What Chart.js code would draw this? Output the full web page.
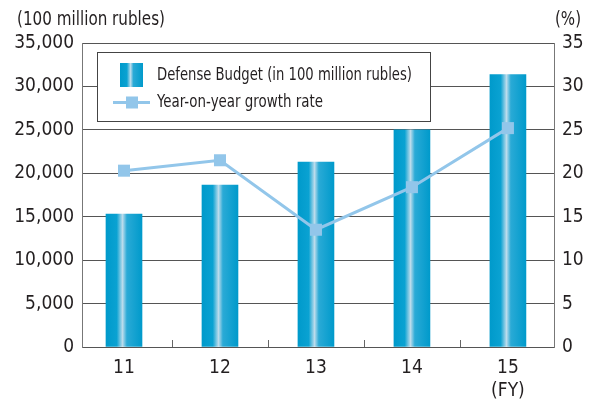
<!DOCTYPE html>
<html>
<head>
<meta charset="utf-8">
<script src="https://cdn.jsdelivr.net/npm/chart.js@4"></script>
<style>
  html, body { margin: 0; padding: 0; background: #fff; }
  #wrap { width: 591px; height: 401px; }
</style>
</head>
<body>
<div id="wrap"><canvas id="myChartBudget" width="591" height="401"></canvas></div>
<script>
const categories = ['11', '12', '13', '14', '15'];
const budget = [15300, 18650, 21300, 25000, 31350]; // 100 million rubles
const growth = [20.3, 21.5, 13.5, 18.4, 25.2]; // %
const leftTicks = [0, 5000, 10000, 15000, 20000, 25000, 30000, 35000];
const rightTicks = [0, 5, 10, 15, 20, 25, 30, 35];

const FONT = '"Liberation Sans Narrow", "DejaVu Sans Condensed", "Liberation Sans", Arial, sans-serif';
const TEXT = '#231f20';
const LINE_BLUE = '#92c6ea';
const BAR_W = 36;

function barGradient(ctx, x0, x1) {
    const g = ctx.createLinearGradient(x0, 0, x1, 0);
    g.addColorStop(0, '#009acb');
    g.addColorStop(0.3, '#0aa2d2');
    g.addColorStop(0.46, '#bcdcec');
    g.addColorStop(0.58, '#2aaad6');
    g.addColorStop(1, '#009acb');
    return g;
}

// axis titles, small category separators and the boxed legend
const decorations = {
    id: 'decorations',
    beforeDatasetsDraw(chart) {
        const ctx = chart.ctx;
        const area = chart.chartArea;
        const x = chart.scales.x;
        ctx.save();

        // separators between categories
        ctx.strokeStyle = '#666';
        ctx.lineWidth = 1;
        for (let i = 0; i < categories.length - 1; i++) {
            const px = Math.round(x.getPixelForValue(i + 0.5)) + 0.5;
            ctx.beginPath();
            ctx.moveTo(px, area.bottom);
            ctx.lineTo(px, area.bottom - 7);
            ctx.stroke();
        }

        // legend box
        const lx = 97, ly = 52, lw = 333, lh = 69;
        ctx.fillStyle = '#fff';
        ctx.fillRect(lx, ly, lw, lh);
        ctx.strokeStyle = '#444';
        ctx.strokeRect(lx + 0.5, ly + 0.5, lw, lh);

        ctx.fillStyle = barGradient(ctx, 120, 143);
        ctx.fillRect(120, 63, 23, 24);

        ctx.strokeStyle = LINE_BLUE;
        ctx.lineWidth = 3;
        ctx.beginPath();
        ctx.moveTo(113, 102.5);
        ctx.lineTo(150, 102.5);
        ctx.stroke();
        ctx.fillStyle = LINE_BLUE;
        ctx.fillRect(126, 96.5, 12, 12);

        ctx.fillStyle = TEXT;
        ctx.font = '18px ' + FONT;
        ctx.textBaseline = 'middle';
        ctx.textAlign = 'left';
        ctx.fillText(chart.data.datasets[1].label, 157, 75, 255);
        ctx.fillText(chart.data.datasets[0].label, 157, 102, 166);

        // axis titles
        ctx.font = '19px ' + FONT;
        ctx.fillText('(100 million rubles)', 17, 20, 148);
        ctx.textAlign = 'center';
        ctx.fillText('(%)', 568, 20, 26);
        ctx.restore();
    }
};

const ctxBudget = document.getElementById('myChartBudget').getContext('2d');
const chartBudget = new Chart(ctxBudget, {
    data: {
        datasets: [{
            type: 'line',
            label: 'Year-on-year growth rate',
            data: growth.map((v, i) => ({ x: i, y: v })),
            yAxisID: 'y1',
            borderColor: LINE_BLUE,
            backgroundColor: LINE_BLUE,
            borderWidth: 3,
            pointStyle: 'rect',
            pointRadius: 8.5,
            pointBorderWidth: 0,
            order: 0
        }, {
            type: 'bar',
            label: 'Defense Budget (in 100 million rubles)',
            data: budget.map((v, i) => ({ x: i, y: v })),
            yAxisID: 'y',
            backgroundColor: c => {
                const sx = c.chart.scales.x;
                if (!sx || c.type !== 'data') return '#009acb';
                const px = sx.getPixelForValue(c.dataIndex);
                if (!Number.isFinite(px)) return '#009acb';
                return barGradient(c.chart.ctx, px - BAR_W / 2, px + BAR_W / 2);
            },
            barThickness: BAR_W,
            order: 1
        }]
    },
    options: {
        responsive: false,
        animation: false,
        events: [],
        layout: { padding: { top: 43, left: 0, right: 0, bottom: 0 } },
        plugins: { legend: { display: false }, tooltip: { enabled: false } },
        scales: {
            x: {
                type: 'linear',
                offset: false,
                min: -0.4375,
                max: 4.48,
                afterBuildTicks: s => { s.ticks = categories.map((c, i) => ({ value: i })); },
                afterFit: s => { s.height = 54; },
                grid: { display: false, drawTicks: false, offset: false },
                border: { display: true, color: '#555', width: 1 },
                ticks: {
                    padding: 10,
                    color: TEXT,
                    font: { family: FONT, size: 19 },
                    maxRotation: 0,
                    autoSkip: false,
                    callback: (v, i) => i === categories.length - 1 ? [categories[i], '(FY)'] : categories[i]
                }
            },
            y: {
                position: 'left',
                min: 0,
                max: 35000,
                afterBuildTicks: s => { s.ticks = leftTicks.map(v => ({ value: v })); },
                afterFit: s => { s.width = 82; },
                grid: { color: '#555', drawTicks: false, lineWidth: 1 },
                border: { display: true, color: '#777', width: 1 },
                ticks: {
                    padding: 8,
                    color: TEXT,
                    font: { family: FONT, size: 19 },
                    callback: v => v.toLocaleString('en-US')
                }
            },
            y1: {
                position: 'right',
                min: 0,
                max: 35,
                afterBuildTicks: s => { s.ticks = rightTicks.map(v => ({ value: v })); },
                afterFit: s => { s.width = 37; },
                grid: { drawOnChartArea: false, drawTicks: false },
                border: { display: true, color: '#777', width: 1 },
                ticks: {
                    padding: 8,
                    color: TEXT,
                    font: { family: FONT, size: 19 }
                }
            }
        }
    },
    plugins: [decorations]
});
</script>
</body>
</html>
